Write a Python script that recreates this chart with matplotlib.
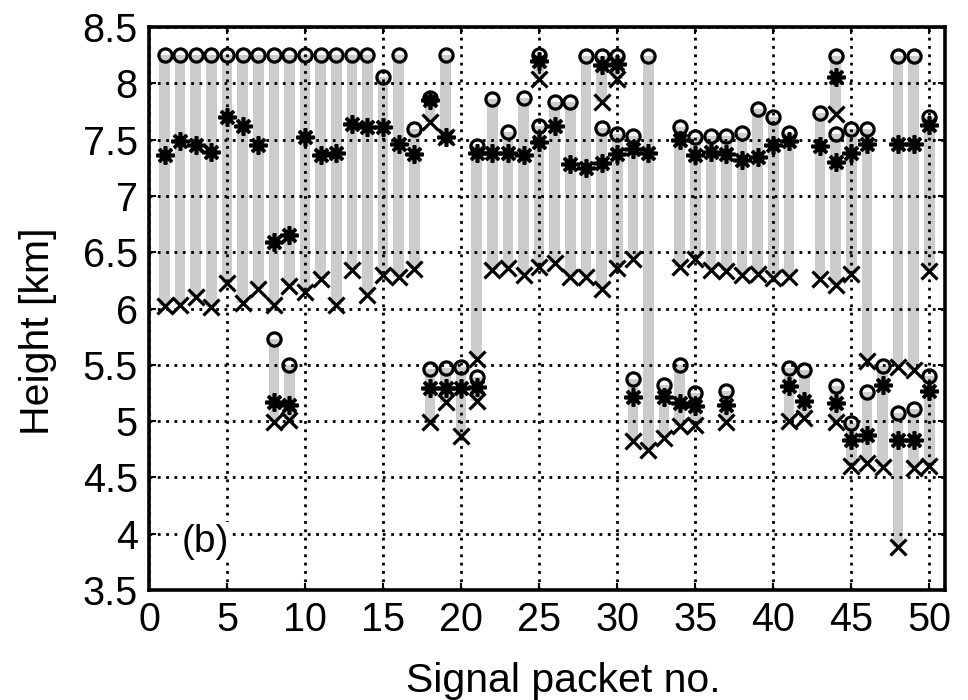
import numpy as np
import matplotlib
matplotlib.use('Agg')
import matplotlib.pyplot as plt
from matplotlib.ticker import FuncFormatter

plt.rcParams['font.family'] = ['Liberation Sans', 'DejaVu Sans']

# Data: each entry is one source group within a signal packet
# packet no., max (o), mean (*), min (x)  [km]
packet = [1, 2, 3, 4, 5, 6, 7, 8, 9, 10,
          11, 12, 13, 14, 15, 16, 17, 18, 19, 21,
          22, 23, 24, 25, 25, 26, 27, 28, 29, 29,
          30, 30, 31, 32, 34, 35, 36, 37, 38, 39,
          40, 41, 43, 44, 44, 45, 46, 48, 49, 50,
          8, 9, 18, 19, 20, 21, 31, 33, 34, 35,
          37, 41, 42, 44, 45, 46, 47, 48, 49, 50]
h_max = [8.25, 8.25, 8.25, 8.25, 8.25, 8.25, 8.25, 8.25, 8.25, 8.25,
         8.25, 8.25, 8.25, 8.25, 8.06, 8.25, 7.59, 7.87, 8.25, 7.44,
         7.86, 7.57, 7.87, 8.25, 7.62, 7.83, 7.83, 8.24, 8.24, 7.60,
         8.24, 7.55, 7.53, 8.24, 7.61, 7.52, 7.53, 7.53, 7.56, 7.77,
         7.70, 7.56, 7.74, 8.24, 7.55, 7.59, 7.59, 8.24, 8.24, 7.70,
         5.73, 5.50, 5.46, 5.47, 5.48, 5.39, 5.37, 5.32, 5.50, 5.25,
         5.27, 5.47, 5.45, 5.31, 4.98, 5.26, 5.49, 5.07, 5.11, 5.40]
h_mean = [7.36, 7.49, 7.45, 7.39, 7.70, 7.62, 7.45, 6.59, 6.65, 7.52,
          7.36, 7.38, 7.64, 7.61, 7.61, 7.46, 7.37, 7.85, 7.52, 7.38,
          7.38, 7.38, 7.36, 8.20, 7.48, 7.62, 7.28, 7.25, 8.16, 7.29,
          8.17, 7.37, 7.42, 7.38, 7.50, 7.36, 7.39, 7.37, 7.32, 7.35,
          7.45, 7.49, 7.44, 8.06, 7.30, 7.38, 7.46, 7.46, 7.46, 7.63,
          5.17, 5.14, 5.29, 5.29, 5.29, 5.30, 5.21, 5.21, 5.16, 5.13,
          5.14, 5.31, 5.18, 5.16, 4.83, 4.88, 5.32, 4.83, 4.83, 5.27]
h_min = [6.02, 6.03, 6.10, 6.01, 6.23, 6.05, 6.17, 6.03, 6.20, 6.15,
         6.26, 6.03, 6.34, 6.12, 6.30, 6.28, 6.35, 7.66, 7.52, 5.55,
         6.34, 6.36, 6.30, 8.04, 6.37, 6.40, 6.28, 6.28, 7.83, 6.17,
         8.04, 6.36, 6.44, 4.74, 6.37, 6.44, 6.34, 6.33, 6.30, 6.31,
         6.27, 6.28, 6.26, 7.73, 6.21, 6.31, 5.53, 5.48, 5.45, 6.33,
         4.99, 5.01, 4.99, 5.17, 4.87, 5.18, 4.82, 4.85, 4.96, 4.97,
         4.99, 5.00, 5.03, 4.99, 4.60, 4.63, 4.59, 3.88, 4.58, 4.60]

packet = np.array(packet)
h_max = np.array(h_max)
h_mean = np.array(h_mean)
h_min = np.array(h_min)

fig = plt.figure(figsize=(9.68, 7.0), dpi=100)
ax = fig.add_axes([0.1539, 0.1571, 0.8223, 0.8043])

# gray range bars
ax.bar(packet, h_max - h_min, bottom=h_min, width=0.68, color='#cccccc',
       edgecolor='none', zorder=1)

ax.plot(packet, h_max, linestyle='none', marker='o', ms=9.5, mfc='none',
        mec='k', mew=2.3, zorder=4)
ax.plot(packet, h_mean, linestyle='none', marker=(8, 2, 0), ms=13,
        mec='k', mew=2.6, zorder=4)
ax.plot(packet, h_min, linestyle='none', marker='x', ms=11,
        mec='k', mew=2.3, zorder=4)

ax.set_xlim(0, 51)
ax.set_ylim(3.5, 8.5)
ax.set_xticks(np.arange(0, 51, 5))
ax.set_yticks(np.arange(3.5, 8.51, 0.5))
ax.yaxis.set_major_formatter(FuncFormatter(lambda v, p: '%g' % v))

ax.set_axisbelow(False)
ax.grid(True, color='k', linestyle=(0, (1, 2.0)), linewidth=2.0)

for s in ax.spines.values():
    s.set_linewidth(2.6)
ax.tick_params(direction='in', length=5, width=1.5, top=True, right=True,
               labelsize=28.5, pad=8)

ax.set_xlabel('Signal packet no.', fontsize=29.5)
ax.set_ylabel('Height [km]', fontsize=29.5)
ax.xaxis.set_label_coords(0.521, -0.162)
ax.xaxis.label.set_va('center')
ax.yaxis.set_label_coords(-0.14, 0.46)
ax.yaxis.label.set_va('center')

ax.text(2.1, 3.93, '(b)', fontsize=28, ha='left', va='center', zorder=5,
        bbox=dict(facecolor='white', edgecolor='none', pad=1))

fig.savefig('out.png', dpi=100)
